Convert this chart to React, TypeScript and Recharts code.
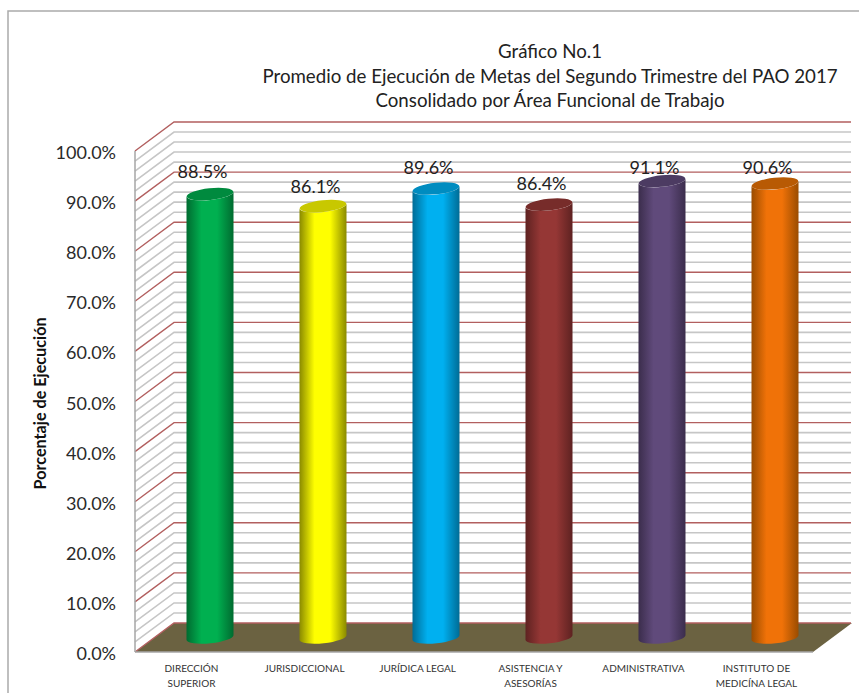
import { Bar, BarChart, CartesianGrid, LabelList, XAxis, YAxis } from "recharts";

const categories = [
  "DIRECCIÓN\nSUPERIOR",
  "JURISDICCIONAL",
  "JURÍDICA LEGAL",
  "ASISTENCIA Y\nASESORÍAS",
  "ADMINISTRATIVA",
  "INSTITUTO DE\nMEDICÍNA LEGAL",
];
const values = [88.5, 86.1, 89.6, 86.4, 91.1, 90.6];
const barMid = ["#00b050", "#ffff00", "#00b0f0", "#953735", "#604a7b", "#f07208"];
const barEdge = ["#006b30", "#8a8a00", "#006c96", "#5e2221", "#3b2d4c", "#9a4c00"];
const barTop = ["#008a3e", "#c8c800", "#008cc0", "#772c2a", "#4c3b62", "#b85a04"];
const labelLift = [16, 13, 15, 15, 7, 10];
const yTicks = [0, 10, 20, 30, 40, 50, 60, 70, 80, 90, 100];
const gridValues = Array.from({ length: 51 }, (_, i) => 100 - i * 2);
const titleLines = [
  "Gráfico No.1",
  "Promedio de Ejecución de Metas del Segundo Trimestre del PAO 2017",
  "Consolidado por Área Funcional de Trabajo",
];

const data = categories.map((name, i) => ({ name, value: values[i], index: i }));

const FONT = "Lato, sans-serif";
const DEPTH_X = 39;
const DEPTH_Y = 29;
const TILT = 2.5;
const RY = 5.8;

function GridLine(props: any) {
  const { x1, y1, x2, index } = props;
  const major = index % 5 === 0;
  const stroke = major ? "#b25f5f" : "#c6c6c6";
  const backY = y1 - DEPTH_Y;
  const isFloor = index === 50;
  return (
    <g>
      {isFloor && (
        <polygon
          points={`${x1},${y1} ${x1 + DEPTH_X},${backY} ${x2 + DEPTH_X},${backY} ${x2},${y1}`}
          fill="#6b6241"
        />
      )}
      <polyline
        points={`${x1},${y1} ${x1 + DEPTH_X},${backY} ${x2 + DEPTH_X - 1},${backY}`}
        fill="none"
        stroke={stroke}
        strokeWidth={major ? 1.4 : 1.6}
      />
    </g>
  );
}

function Cylinder(props: any) {
  const { x, y, width, height, index } = props;
  const left = x + DEPTH_X / 2 - 1;
  const right = left + width;
  const cx = left + width / 2;
  const top = y - DEPTH_Y / 2;
  const bottom = top + height;
  const rx = width / 2;
  const body = [
    `M${left},${top + TILT}`,
    `L${left},${bottom + TILT}`,
    `A${rx},${RY} -6 0 0 ${right},${bottom - TILT}`,
    `L${right},${top - TILT}`,
    `A${rx},${RY} -6 0 1 ${left},${top + TILT}`,
    "Z",
  ].join(" ");
  return (
    <g>
      <path d={body} fill={`url(#cyl${index})`} />
      <ellipse
        cx={cx}
        cy={top}
        rx={rx}
        ry={RY}
        fill={barTop[index]}
        transform={`rotate(-6 ${cx} ${top})`}
      />
    </g>
  );
}

function ValueLabel(props: any) {
  const { x, y, width, value, index } = props;
  return (
    <text
      x={x + width / 2 + 11}
      y={y - DEPTH_Y / 2 - labelLift[index]}
      textAnchor="middle"
      fontFamily={FONT}
      fontSize={18}
      fill="#222"
    >
      {`${Number(value).toFixed(1)}%`}
    </text>
  );
}

function CategoryTick(props: any) {
  const { x, y, payload } = props;
  return (
    <text textAnchor="middle" fontFamily={FONT} fontSize={10} fill="#333">
      {String(payload.value)
        .split("\n")
        .map((line, i) => (
          <tspan key={line} x={x} y={y + 18 + i * 15}>
            {line}
          </tspan>
        ))}
    </text>
  );
}

function PercentTick(props: any) {
  const { x, y, payload } = props;
  return (
    <text x={x} y={y + 8} textAnchor="end" fontFamily={FONT} fontSize={18} fill="#2a2a2a">
      {`${Number(payload.value).toFixed(1)}%`}
    </text>
  );
}

export default function App() {
  return (
    <div style={{ position: "absolute", left: 0, top: 0, width: 859, height: 693, background: "#fff" }}>
      <BarChart
        width={859}
        height={693}
        data={data}
        margin={{ top: 151, right: 46, bottom: 0, left: 0 }}
      >
        <defs>
          {barMid.map((mid, i) => (
            <linearGradient key={mid} id={`cyl${i}`} x1="0" y1="0" x2="1" y2="0">
              <stop offset="0%" stopColor={barEdge[i]} />
              <stop offset="32%" stopColor={mid} />
              <stop offset="65%" stopColor={mid} />
              <stop offset="100%" stopColor={barEdge[i]} />
            </linearGradient>
          ))}
        </defs>
        <path d="M8,693 V11 H859" fill="none" stroke="#ababab" strokeWidth={1.5} />
        <text textAnchor="middle" fontFamily={FONT} fontSize={18.7} fill="#222">
          {titleLines.map((line, i) => (
            <tspan key={line} x={550} y={58 + i * 24.5}>
              {line}
            </tspan>
          ))}
        </text>
        <CartesianGrid
          vertical={false}
          horizontal={(p: any) => <GridLine key={p.index} {...p} />}
          horizontalValues={gridValues}
        />
        <XAxis
          dataKey="name"
          height={41}
          interval={0}
          tickLine={false}
          tickSize={0}
          axisLine={{ stroke: "#a6a6a6", strokeWidth: 1.5 }}
          tick={<CategoryTick />}
        />
        <YAxis
          type="number"
          domain={[0, 100]}
          ticks={yTicks}
          width={135}
          interval={0}
          tickLine={false}
          tickSize={0}
          tickMargin={19}
          axisLine={{ stroke: "#a6a6a6", strokeWidth: 1.5 }}
          tick={<PercentTick />}
          label={{
            value: "Porcentaje de Ejecución",
            angle: -90,
            position: "insideLeft",
            dx: 35,
            dy: 88,
            style: { fill: "#111", fontSize: 16.2, fontWeight: 700, fontFamily: FONT },
          }}
        />
        <Bar dataKey="value" barSize={47} isAnimationActive={false} shape={<Cylinder />}>
          <LabelList dataKey="value" content={<ValueLabel />} />
        </Bar>
      </BarChart>
    </div>
  );
}
